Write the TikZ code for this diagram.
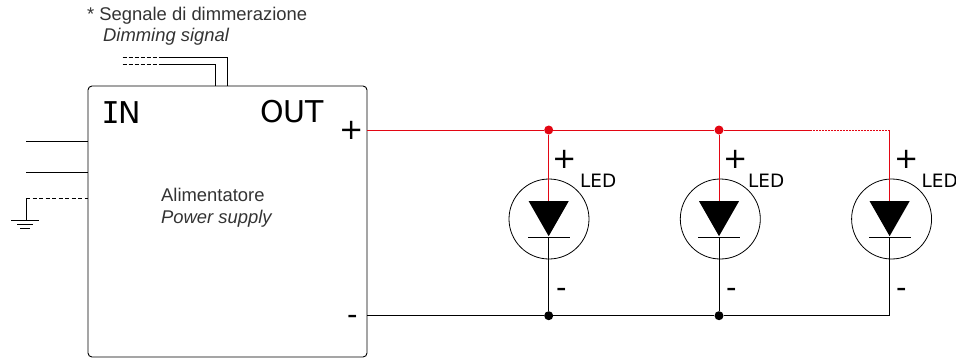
\documentclass[tikz,border=0pt]{standalone}
\usepackage{fontspec}
\setmainfont{Liberation Sans}
\newfontfamily\symbfont{DejaVu Sans}
\newfontfamily\symbmono{DejaVu Sans Mono}
\usetikzlibrary{positioning}
\usetikzlibrary{shapes.geometric}
\definecolor{wirered}{HTML}{E30613}
\definecolor{labelgrey}{HTML}{333333}

\tikzset{
  wire/.style={line width=0.9pt},
  redwire/.style={wire, draw=wirered},
  supply/.style={draw, line width=0.9pt, rounded corners=4pt, minimum width=279pt, minimum height=271pt, inner sep=0pt},
  ledring/.style={circle, draw, line width=0.8pt, minimum size=80pt, inner sep=0pt},
  diode/.style={isosceles triangle, isosceles triangle stretches, shape border rotate=-90, fill=black, minimum width=40pt, minimum height=35pt, inner sep=0pt, anchor=apex},
  bar/.style={fill=black, minimum height=0.9pt, inner sep=0pt},
  dot/.style={circle, fill=black, minimum size=9pt, inner sep=0pt},
  reddot/.style={dot, fill=wirered},
  txt/.style={anchor=base west, inner sep=0pt, text=labelgrey, font=\fontsize{18.4}{20}\selectfont},
  itxt/.style={txt, font=\fontsize{18.4}{20}\selectfont\itshape},
  big/.style={anchor=base west, inner sep=0pt, font=\symbfont\fontsize{30}{30}\selectfont},
  sign/.style={inner sep=0pt, font=\symbfont\fontsize{29}{30}\selectfont},
  ledtxt/.style={anchor=base west, inner sep=0pt, font=\symbfont\fontsize{18.4}{20}\selectfont}
}

\begin{document}
\begin{tikzpicture}[x=1pt, y=-1pt]
\useasboundingbox (0,0) rectangle (956,360);

% power supply
\node[supply] (psu) at (227.5,221.5) {};
\node[big] (in) at (101.5,123) {{\symbmono I}\kern-1pt N};
\node[big] (out) at (260,122) {OUT};
\node[sign] (plus) at (352,130) {+};
\node[sign] (minus) at (353,320) {-};
\node[txt] (alim) at (161,201) {Alimentatore};
\node[itxt] (power) at (161,223) {Power supply};
\node[txt] (dimit) at (87,20) {* Segnale di dimmerazione};
\node[itxt] (dimen) at (103,41) {Dimming signal};

% leds
\node[ledring] (led1) at (549,219) {};
\node[ledring, right = 90.5pt of led1] (led2) {};
\node[ledring, right = 90.5pt of led2] (led3) {};
\node[diode] (d1) at (548.7,236.7) {};
\node[diode] (d2) at (719,236.7) {};
\node[diode] (d3) at (889.6,236.7) {};
\node[bar, minimum width=42pt] (b1) at (548.7,237.3) {};
\node[bar, minimum width=42pt] (b2) at (719,237.3) {};
\node[bar, minimum width=42pt] (b3) at (889.6,237.3) {};
\node[sign] (p1) at (565,159.5) {+};
\node[sign] (p2) at (735.5,159.5) {+};
\node[sign] (p3) at (907,159.5) {+};
\node[sign] (m1) at (562,292.5) {-};
\node[sign] (m2) at (732,292.5) {-};
\node[sign] (m3) at (902,292.5) {-};
\node[ledtxt] (l1) at (580,187) {LED};
\node[ledtxt] (l2) at (748,187) {LED};
\node[ledtxt] (l3) at (921.5,187) {LED};

% junctions
\node[reddot] (jp1) at (548.7,130) {};
\node[reddot] (jp2) at (719,130) {};
\node[dot] (jm1) at (548.7,315.7) {};
\node[dot] (jm2) at (719,315.7) {};
\coordinate (outp) at (367,130);
\coordinate (outm) at (367,315.7);
\coordinate (dots) at (810,130);
\coordinate (cp3) at (889.6,130);
\coordinate (cm3) at (889.6,315.7);

% ground
\coordinate (pe) at (26,198.5);
\node[bar, minimum width=28pt] (g1) at (24.5,220) {};
\node[bar, minimum width=16pt] (g2) at (25,224) {};
\node[bar, minimum width=10pt] (g3) at (25,228) {};

% mains wires
\coordinate (ac1) at (26,141.5);
\coordinate (ac2) at (26,172);
\draw[wire] (ac1) -- (ac1 -| psu.west);
\draw[wire] (ac2) -- (ac2 -| psu.west);
\draw[wire, dash pattern=on 4pt off 2.5pt] (pe) -- (pe -| psu.west);
\draw[wire] (pe) -- (pe |- g1);

% dimming wires
\coordinate (s1) at (122.5,57);
\coordinate (s2) at (122.5,64.5);
\coordinate (t1) at (163,57);
\coordinate (t2) at (163,64.5);
\coordinate (u1) at (227,57);
\coordinate (u2) at (215,64.5);
\draw[wire, dash pattern=on 4pt off 2pt] (s1) -- (t1);
\draw[wire, dash pattern=on 4pt off 2pt] (s2) -- (t2);
\draw[wire] (t1) -- (u1) -- (u1 |- psu.north);
\draw[wire] (t2) -- (u2) -- (u2 |- psu.north);

% plus rail
\draw[redwire] (outp) -- (jp1);
\draw[redwire] (jp1) -- (jp2);
\draw[redwire] (jp2) -- (dots);
\draw[redwire, dash pattern=on 1.5pt off 1.5pt] (dots) -- (cp3);
\draw[redwire] (cp3) -- (d3.lower side);
\draw[redwire] (jp1) -- (d1.lower side);
\draw[redwire] (jp2) -- (d2.lower side);

% minus rail
\draw[wire] (outm) -- (jm1);
\draw[wire] (jm1) -- (jm2);
\draw[wire] (jm2) -- (cm3);
\draw[wire] (cm3) -- (d3.apex);
\draw[wire] (jm1) -- (d1.apex);
\draw[wire] (jm2) -- (d2.apex);
\end{tikzpicture}
\end{document}
